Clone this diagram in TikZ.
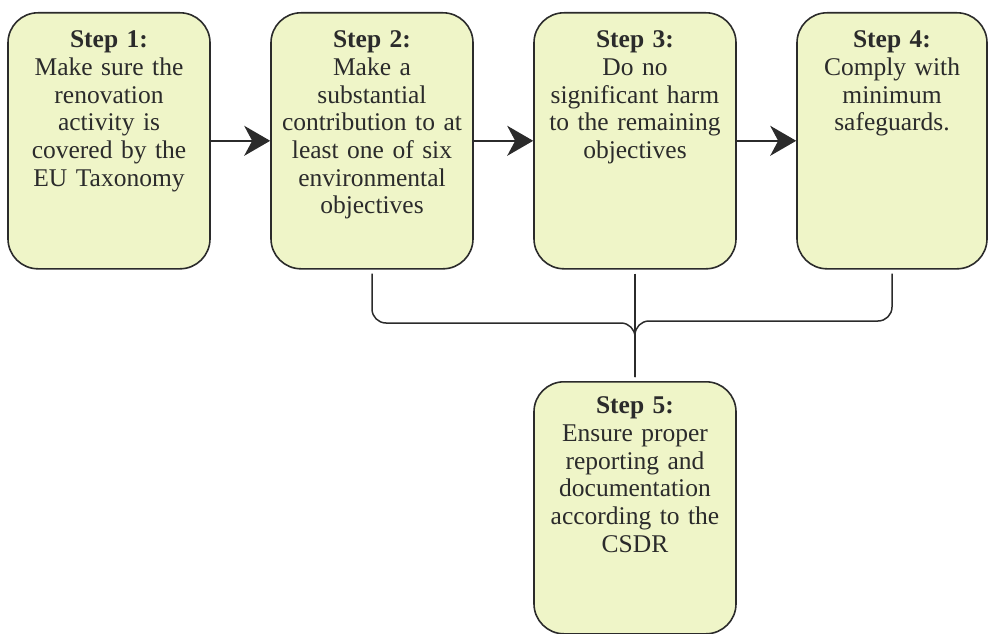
\documentclass[tikz,border=0pt]{standalone}
\usepackage{fontspec}
\setmainfont{Liberation Serif}
\usetikzlibrary{arrows.meta}
\definecolor{boxfill}{HTML}{EFF5C8}
\definecolor{lineclr}{HTML}{2B2B2B}
\tikzset{
  stepbox/.style={draw=lineclr, line width=1.6pt, fill=boxfill, rounded corners=30pt,
    anchor=north, align=center, text width=184pt, inner xsep=9pt, inner ysep=4pt,
    text height=31pt, text depth=217pt, text=lineclr,
    font=\fontsize{25.5}{27.7}\selectfont},
  flow/.style={draw=lineclr, line width=2pt, -{Stealth[length=26pt,width=30pt,inset=8pt]}},
  mergeline/.style={draw=lineclr, line width=1.5pt, rounded corners=14pt},
}
\begin{document}
\begin{tikzpicture}[x=1pt, y=1pt]
    \useasboundingbox (0,0) rectangle (988,-634);
    % steps 1-4 in a row
    \node[stepbox] (s1) at (109,-12) {\textbf{Step 1:}\\Make sure the\\renovation\\activity is\\covered by the\\EU Taxonomy};
    \node[stepbox] (s2) at (372,-12) {\textbf{Step 2:}\\Make a\\substantial\\contribution to at\\least one of six\\environmental\\objectives};
    \node[stepbox] (s3) at (635,-12) {\textbf{Step 3:}\\Do no\\significant harm\\to the remaining\\objectives};
    \node[stepbox, text width=172pt] (s4) at (892,-12) {\textbf{Step 4:}\\Comply with\\minimum\\safeguards.};
    % step 5 below
    \node[stepbox, text height=28pt, text depth=216pt] (s5) at (635,-381) {\textbf{Step 5:}\\Ensure proper\\reporting and\\documentation\\according to the\\CSDR};
    \draw[flow] (s1) -- (s2);
    \draw[flow] (s2) -- (s3);
    \draw[flow] (s3) -- (s4);
    \coordinate (merge) at (635,-323);
    \draw[mergeline] ([yshift=-4pt]s2.south) |- (merge) -- ([yshift=4pt]s5.north);
    \draw[mergeline] ([yshift=-4pt]s4.south) |- ([yshift=2pt]merge) -- ([yshift=4pt]s5.north);
    \draw[mergeline] ([yshift=-4pt]s3.south) -- ([yshift=4pt]s5.north);
\end{tikzpicture}
\end{document}
